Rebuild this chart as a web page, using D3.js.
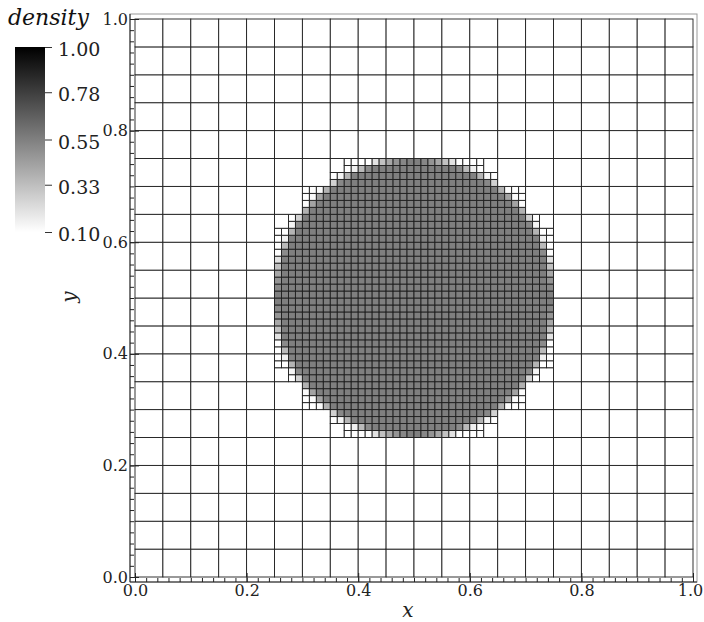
<!DOCTYPE html>
<html>
<head>
<meta charset="utf-8">
<script src="https://cdn.jsdelivr.net/npm/d3@7"></script>
<style>
  body { margin: 0; background: #fff; }
  svg { display: block; }
  .tick text { font-family: 'DejaVu Serif', serif; fill: #222; }
</style>
</head>
<body>
<div id="chart"></div>
<script>
// mesh levels (cell size per refinement level)
const levelSizes = [0.05, 0.025, 0.0125];
// disk of dense material
const diskCenter = [0.5, 0.5];
const diskRadius = [0.25];
const densityInside = [0.55];
const densityOutside = [0.1];

const axisTicks = [0, 0.2, 0.4, 0.6, 0.8, 1.0];
const colorbarTicks = [0.10, 0.33, 0.55, 0.78, 1.00];

const width = 704, height = 622;
const plot = { left: 135, right: 693, top: 19, bottom: 577 };
const frame = { left: 130, right: 697, top: 14, bottom: 582 };

const svg = d3.select('#chart').append('svg')
  .attr('width', width)
  .attr('height', height);

const x = d3.scaleLinear().domain([0, 1]).range([plot.left, plot.right]);
const y = d3.scaleLinear().domain([0, 1]).range([plot.bottom, plot.top]);
const color = d3.scaleLinear().domain([0.1, 1.0]).range(['#ffffff', '#000000']);

function touchesDisk(x0, y0, s) {
  const px = Math.max(x0, Math.min(diskCenter[0], x0 + s));
  const py = Math.max(y0, Math.min(diskCenter[1], y0 + s));
  const d = Math.hypot(px - diskCenter[0], py - diskCenter[1]);
  return d < diskRadius[0] - 1e-9;
}

function coverage(x0, y0, s) {
  const n = 10;
  let hit = 0;
  for (let i = 0; i < n; i++) {
    for (let j = 0; j < n; j++) {
      const px = x0 + (i + 0.5) * s / n;
      const py = y0 + (j + 0.5) * s / n;
      if (Math.hypot(px - diskCenter[0], py - diskCenter[1]) <= diskRadius[0]) hit++;
    }
  }
  return hit / (n * n);
}

const cells = [];
function refine(x0, y0, lvl) {
  const s = levelSizes[lvl];
  if (lvl < levelSizes.length - 1 && touchesDisk(x0, y0, s)) {
    const h = levelSizes[lvl + 1];
    refine(x0, y0, lvl + 1);
    refine(x0 + h, y0, lvl + 1);
    refine(x0, y0 + h, lvl + 1);
    refine(x0 + h, y0 + h, lvl + 1);
  } else {
    const f = coverage(x0, y0, s);
    cells.push({ x0, y0, s, density: densityOutside[0] + (densityInside[0] - densityOutside[0]) * f });
  }
}
const nCoarse = Math.round(1 / levelSizes[0]);
for (let i = 0; i < nCoarse; i++) {
  for (let j = 0; j < nCoarse; j++) {
    refine(i * levelSizes[0], j * levelSizes[0], 0);
  }
}

// frame
svg.append('rect')
  .attr('x', frame.left).attr('y', frame.top)
  .attr('width', frame.right - frame.left).attr('height', frame.bottom - frame.top)
  .attr('fill', 'none').attr('stroke', '#9a9a9a').attr('stroke-width', 1);

// mesh cells
svg.append('g').selectAll('rect')
  .data(cells)
  .enter()
  .append('rect')
  .attr('x', d => x(d.x0))
  .attr('y', d => y(d.y0 + d.s))
  .attr('width', d => x(d.x0 + d.s) - x(d.x0))
  .attr('height', d => y(d.y0) - y(d.y0 + d.s))
  .attr('fill', d => color(d.density))
  .attr('stroke', '#1e1e1e')
  .attr('stroke-width', 0.9);

// axes
const minorTicks = d3.range(0, 51).map(i => i / 50);

svg.append('line')
  .attr('x1', frame.left).attr('x2', frame.right)
  .attr('y1', frame.bottom).attr('y2', frame.bottom)
  .attr('stroke', '#222');
svg.append('line')
  .attr('x1', frame.left).attr('x2', frame.left)
  .attr('y1', frame.top).attr('y2', frame.bottom)
  .attr('stroke', '#222');

svg.append('g')
  .attr('transform', `translate(0,${frame.bottom})`)
  .call(d3.axisBottom(x).tickValues(minorTicks).tickSize(-4).tickFormat(''))
  .call(g => g.select('.domain').remove())
  .call(g => g.selectAll('line').attr('stroke', '#222'));

svg.append('g')
  .attr('transform', `translate(0,${frame.bottom})`)
  .call(d3.axisBottom(x).tickValues(axisTicks).tickSize(-9).tickPadding(3).tickFormat(d3.format('.1f')))
  .call(g => g.select('.domain').remove())
  .call(g => g.selectAll('line').attr('stroke', '#222'))
  .call(g => g.selectAll('text').attr('font-size', 16)
    .attr('dx', d => (d === 1 ? -3 : 0)));

svg.append('g')
  .attr('transform', `translate(${frame.left},0)`)
  .call(d3.axisLeft(y).tickValues(minorTicks).tickSize(-4).tickFormat(''))
  .call(g => g.select('.domain').remove())
  .call(g => g.selectAll('line').attr('stroke', '#222'));

svg.append('g')
  .attr('transform', `translate(${frame.left},0)`)
  .call(d3.axisLeft(y).tickValues(axisTicks).tickSize(-9).tickPadding(2).tickFormat(d3.format('.1f')))
  .call(g => g.select('.domain').remove())
  .call(g => g.selectAll('line').attr('stroke', '#222'))
  .call(g => g.selectAll('text').attr('font-size', 16));

// axis titles
svg.append('text')
  .attr('x', 408).attr('y', 617)
  .attr('text-anchor', 'middle')
  .attr('font-family', 'DejaVu Serif, serif')
  .attr('font-style', 'italic')
  .attr('font-size', 20)
  .attr('fill', '#222')
  .text('x');

svg.append('text')
  .attr('transform', 'translate(76,297) rotate(-90)')
  .attr('text-anchor', 'middle')
  .attr('font-family', 'DejaVu Serif, serif')
  .attr('font-style', 'italic')
  .attr('font-size', 20)
  .attr('fill', '#222')
  .text('y');

// colorbar
const bar = { left: 15, right: 45, top: 47, bottom: 232 };
const cb = d3.scaleLinear().domain([0.1, 1.0]).range([bar.bottom, bar.top]);
const grad = svg.append('defs').append('linearGradient')
  .attr('id', 'cbgrad')
  .attr('x1', 0).attr('y1', 1).attr('x2', 0).attr('y2', 0);
grad.append('stop').attr('offset', 0).attr('stop-color', color(0.1));
grad.append('stop').attr('offset', 1).attr('stop-color', color(1.0));

svg.append('rect')
  .attr('x', bar.left).attr('y', bar.top)
  .attr('width', bar.right - bar.left).attr('height', bar.bottom - bar.top)
  .attr('fill', 'url(#cbgrad)');

svg.append('g')
  .attr('transform', `translate(${bar.right},0)`)
  .call(d3.axisRight(cb).tickValues(colorbarTicks).tickSize(7).tickPadding(6).tickFormat(d3.format('.2f')))
  .call(g => g.select('.domain').remove())
  .call(g => g.selectAll('line').attr('stroke', '#333'))
  .call(g => g.selectAll('text').attr('font-size', 19).attr('dy', '0.45em'));

svg.append('text')
  .attr('x', 8).attr('y', 25)
  .attr('font-family', 'DejaVu Serif, serif')
  .attr('font-style', 'italic')
  .attr('font-size', 22)
  .attr('fill', '#111')
  .text('density');
</script>
</body>
</html>
